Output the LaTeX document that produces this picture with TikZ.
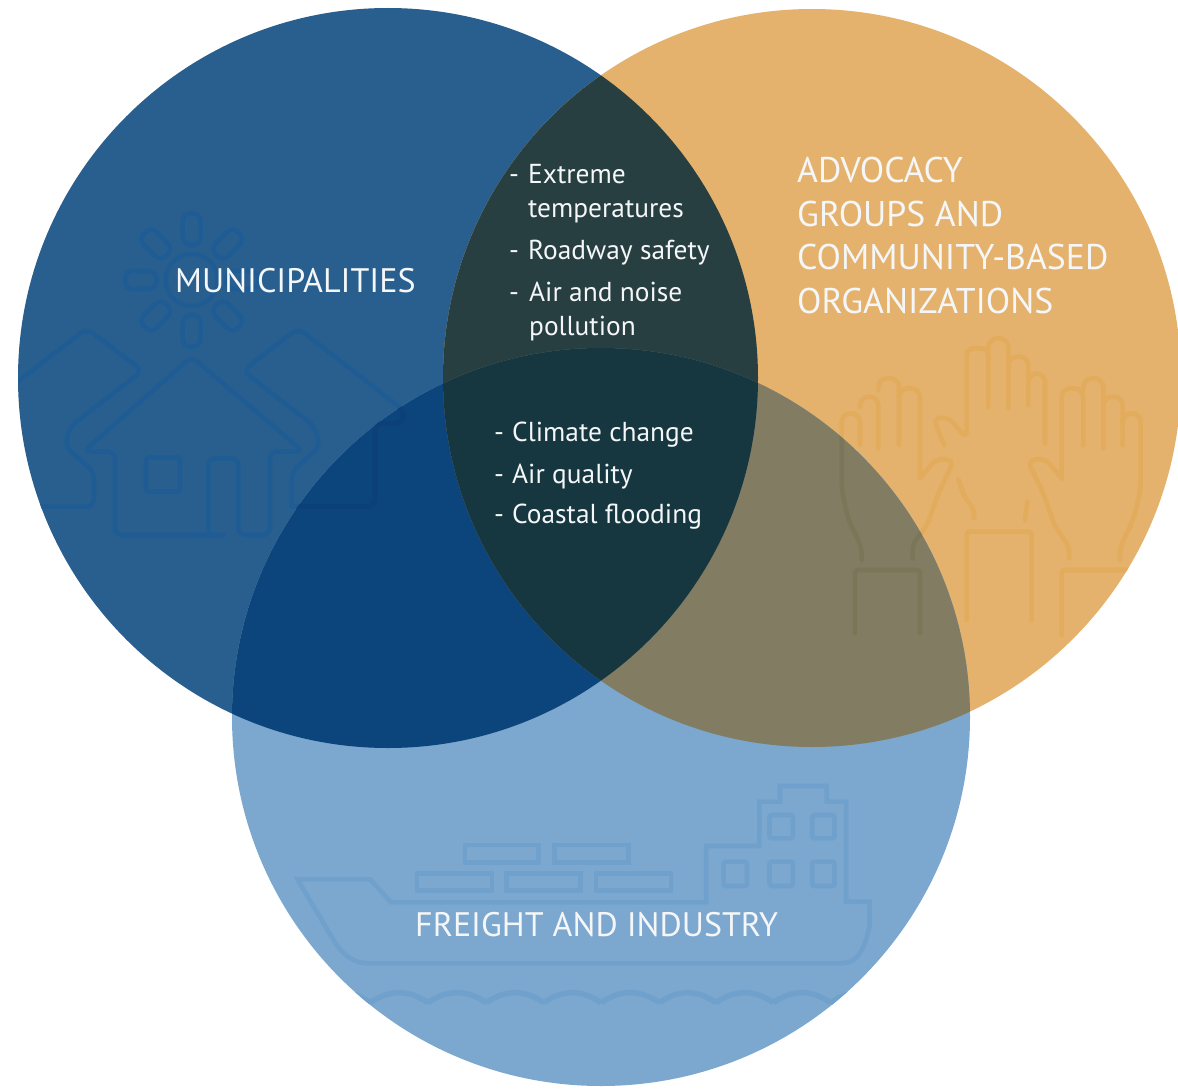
\documentclass[tikz,border=0pt]{standalone}
\usepackage{fontspec}
\setmainfont{PT Sans}
\definecolor{cA}{HTML}{285F8F}
\definecolor{cB}{HTML}{E4B26C}
\definecolor{cC}{HTML}{7CA7CF}
\definecolor{cAB}{HTML}{283F42}
\definecolor{cAC}{HTML}{0C447C}
\definecolor{cBC}{HTML}{827C62}
\definecolor{cABC}{HTML}{16373F}
\definecolor{iA}{HTML}{205C94}
\definecolor{iAC}{HTML}{0B4079}
\definecolor{iB}{HTML}{E3AC5C}
\definecolor{iBC}{HTML}{7C7659}
\definecolor{iC}{HTML}{70A1CD}
\definecolor{txt}{HTML}{F4F6F8}
\newcommand{\cirA}{(388,378) circle[radius=370]}
\newcommand{\cirB}{(812,378) circle[radius=369]}
\newcommand{\cirC}{(601,717) circle[radius=369]}
\newcommand{\houseicon}[1]{%
 \begin{scope}[shift={(20,200)},x=0.3333pt,y=-0.3333pt,icon,draw=#1]
  \draw[rounded corners=7pt] (610,1005) -- (285,1005) -- (285,755) -- (190,755) -- (515,470) -- (850,755) -- (750,755) -- (750,1005) -- (655,1005) -- (655,775) -- (565,775) -- (565,1005);
  \draw[rounded corners=3pt] (378,772) rectangle (480,875);
  \draw[rounded corners=8pt] (-200,695) -- (200,385) -- (368,512) -- (150,680) -- (135,740) -- (222,815) -- (222,920) -- (-100,920);
  \draw[rounded corners=8pt] (815,915) -- (815,815) -- (900,740) -- (885,680) -- (668,512) -- (835,385) -- (1150,630) -- (1150,670) -- (1065,670) -- (1065,920) -- (815,920);
  \draw (515,240) circle[radius=78];
  \foreach \a in {0,45,...,315}
   \draw[rounded corners=8pt,rotate around={\a:(515,240)}] (488,40) rectangle (542,135);
 \end{scope}}
\newcommand{\handsicon}[1]{%
 \begin{scope}[shift={(820,330)},x=0.3333pt,y=-0.3333pt,icon,draw=#1]
  % middle hand
  \draw[rounded corners=7pt] (372,345) -- (340,265) -- (385,262) -- (440,325) -- (440,55) -- (505,55) -- (505,230);
  \draw[rounded corners=9pt] (505,90) -- (505,25) -- (565,25) -- (565,235);
  \draw[rounded corners=9pt] (565,110) -- (565,80) -- (625,80) -- (625,225);
  \draw[rounded corners=9pt] (625,160) -- (625,130) -- (675,130) -- (675,340);
  \draw[rounded corners=6pt] (415,448) -- (435,505) -- (462,535) -- (462,565);
  \draw (622,515) -- (615,570);
  \draw[rounded corners=3pt] (440,870) -- (440,605) -- (635,605) -- (635,870);
  % left hand
  \draw[rounded corners=9pt] (120,345) -- (120,250) -- (65,250) -- (65,480) -- (85,570) -- (125,650) -- (125,690);
  \draw[rounded corners=9pt] (175,355) -- (175,200) -- (120,200) -- (120,230);
  \draw[rounded corners=9pt] (237,345) -- (237,145) -- (175,145) -- (175,180);
  \draw[rounded corners=9pt] (237,205) -- (237,175) -- (300,175) -- (300,445);
  \draw[rounded corners=7pt] (300,445) -- (350,385) -- (402,392) -- (355,490) -- (320,590) -- (278,640) -- (278,685);
  \draw[rounded corners=3pt] (105,910) -- (105,720) -- (300,720) -- (300,910);
  % right hand
  \draw[rounded corners=9pt] (790,345) -- (790,175) -- (725,175) -- (725,445);
  \draw[rounded corners=9pt] (850,355) -- (850,145) -- (790,145) -- (790,180);
  \draw[rounded corners=9pt] (908,345) -- (908,200) -- (850,200) -- (850,230);
  \draw[rounded corners=9pt] (908,280) -- (908,250) -- (962,250) -- (962,480) -- (940,570) -- (900,650) -- (900,690);
  \draw[rounded corners=7pt] (725,445) -- (675,385) -- (623,392) -- (670,490) -- (705,590) -- (748,650) -- (748,685);
  \draw[rounded corners=3pt] (725,915) -- (725,720) -- (1000,720);
 \end{scope}}
\newcommand{\shipicon}[1]{%
 \begin{scope}[shift={(280,770)},x=0.3891pt,y=-0.3333pt,icon,draw=#1]
  \draw[line join=miter] (45,328) -- (232,328) -- (285,397) -- (1095,397) -- (1095,228) -- (1232,228) -- (1232,95) -- (1285,95) -- (1285,48) -- (1405,48) -- (1405,95) -- (1455,95) -- (1455,395) -- (1515,395) -- (1515,470) .. controls (1500,550) and (1480,580) .. (1440,580) -- (230,580) .. controls (190,580) and (165,560) .. (140,515) -- cycle;
  \draw[line join=miter] (475,225) rectangle (665,278);
  \draw[line join=miter] (705,225) rectangle (895,278);
  \draw[line join=miter] (352,310) rectangle (545,362);
  \draw[line join=miter] (582,310) rectangle (772,362);
  \draw[line join=miter] (812,310) rectangle (1005,362);
  \draw[rounded corners=2pt] (1258,135) rectangle (1318,205);
  \draw[rounded corners=2pt] (1368,135) rectangle (1425,205);
  \draw[rounded corners=2pt] (1140,275) rectangle (1200,348);
  \draw[rounded corners=2pt] (1258,275) rectangle (1318,348);
  \draw[rounded corners=2pt] (1368,275) rectangle (1425,348);
  \foreach \t/\u in {85/232,232/380,380/530,530/678,678/825,825/975,975/1120,1120/1268,1268/1415,1415/1563}
   \draw[line cap=butt,line width=5.5pt] (\t,698) .. controls ({\t+50},658) and ({\u-50},658) .. (\u,698);
 \end{scope}}
\tikzset{
 icon/.style={line width=4.6pt,line cap=round,line join=round},
 big/.style={text=txt,anchor=base west,inner sep=0pt,font=\fontsize{34}{43.5}\selectfont,align=left},
 bigger/.style={big,font=\fontsize{35.7}{43.5}\selectfont},
 item/.style={text=txt,anchor=base west,inner sep=0pt,font=\fontsize{27.4}{34}\selectfont,align=left},
}
\begin{document}
\begin{tikzpicture}[x=1pt,y=-1pt]
\useasboundingbox (0,0) rectangle (1178,1089);
% base discs
\fill[cA] \cirA;
\fill[cB] \cirB;
\fill[cC] \cirC;
\begin{scope}\clip \cirA; \houseicon{iA} \end{scope}
\begin{scope}\clip \cirB; \handsicon{iB} \end{scope}
\begin{scope}\clip \cirC; \shipicon{iC} \end{scope}
% overlaps
\begin{scope}\clip \cirA; \clip \cirB; \fill[cAB] (0,0) rectangle (1178,1089); \end{scope}
\begin{scope}\clip \cirA; \clip \cirC; \fill[cAC] (0,0) rectangle (1178,1089); \houseicon{iAC} \end{scope}
\begin{scope}\clip \cirB; \clip \cirC; \fill[cBC] (0,0) rectangle (1178,1089); \handsicon{iBC} \end{scope}
\begin{scope}\clip \cirA; \clip \cirB; \clip \cirC; \fill[cABC] (0,0) rectangle (1178,1089); \end{scope}
% labels
\node[big] (muni) at (175,292) {MUNICIPALITIES};
\node[bigger] (advo) at (797,313) {ADVOCACY\\GROUPS AND\\COMMUNITY-BASED\\ORGANIZATIONS};
\node[big] (frei) at (415,936) {FREIGHT AND INDUSTRY};
\node[item] (d1) at (509,183) {-};
\node[item] (t1) at (528,217) {Extreme\\temperatures};
\node[item] (d2) at (509,259) {-};
\node[item] (t2) at (528,259) {Roadway safety};
\node[item] (d3) at (509,301) {-};
\node[item] (t3) at (529,335) {Air and noise\\pollution};
\node[item] (d4) at (494,441) {-};
\node[item] (t4) at (512,441) {Climate change};
\node[item] (d5) at (494,483) {-};
\node[item] (t5) at (512,483) {Air quality};
\node[item] (d6) at (494,523) {-};
\node[item] (t6) at (512,523) {Coastal flooding};
\end{tikzpicture}
\end{document}
